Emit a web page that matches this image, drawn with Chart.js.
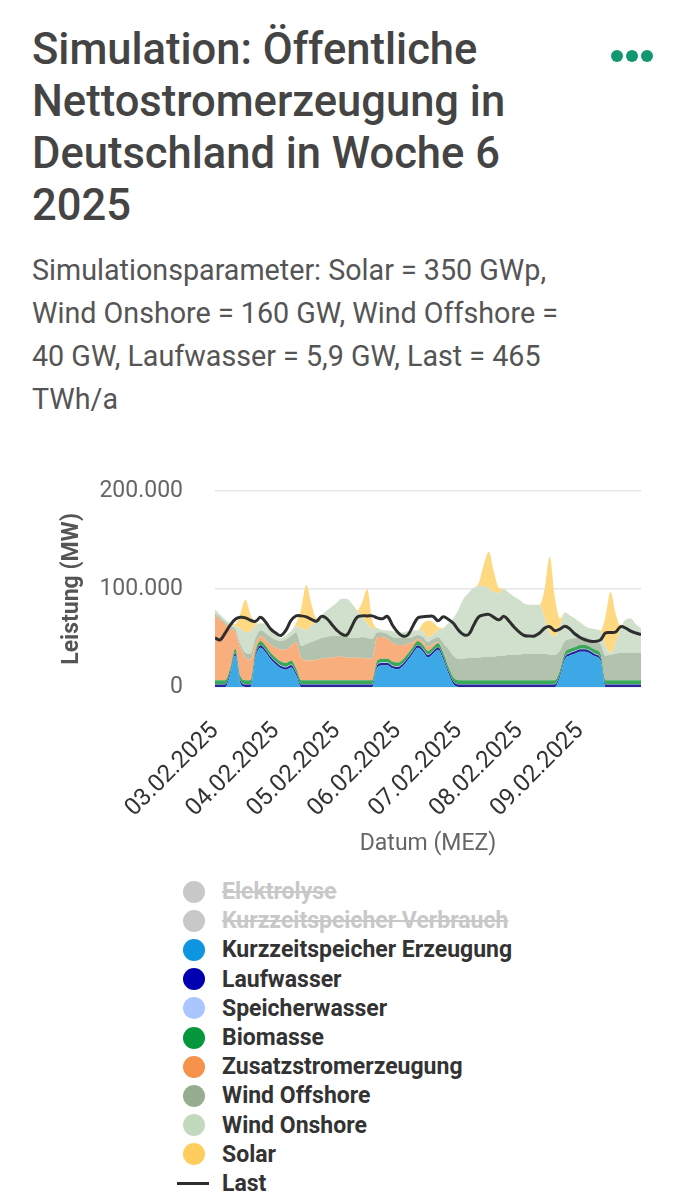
<!DOCTYPE html>
<html lang="de">
<head>
<meta charset="utf-8">
<title>Simulation: Öffentliche Nettostromerzeugung in Deutschland in Woche 6 2025</title>
<script src="https://cdn.jsdelivr.net/npm/chart.js@4.4.1/dist/chart.umd.min.js"></script>
<style>
  html, body { margin: 0; padding: 0; background: #fff; }
  body { position: relative; width: 691px; height: 1200px; overflow: hidden; font-family: Roboto, "Noto Sans", sans-serif; }
  #title { position: absolute; left: 32px; top: 24px; width: 560px; font-size: 43.5px; font-weight: 500; line-height: 52px; color: #444; }
  #menu { position: absolute; left: 611px; top: 47px; white-space: nowrap; }
  #menu span { display: inline-block; width: 12px; height: 12px; border-radius: 50%; background: #13976f; margin-right: 3px; }
  #sub { position: absolute; left: 32px; top: 249px; width: 550px; font-size: 28.7px; line-height: 43px; color: #555; }
  #chartBox { position: absolute; left: 0; top: 445px; width: 691px; height: 415px; }
  #legend { position: absolute; left: 0; top: 877px; width: 691px; }
  .row { position: absolute; left: 0; width: 691px; height: 29px; }
  .mark { position: absolute; left: 183px; top: 3.5px; width: 22px; height: 22px; border-radius: 50%; }
  .mark.line { left: 177px; top: 13px; width: 32px; height: 3px; border-radius: 0; }
  .txt { position: absolute; left: 222px; top: 0; line-height: 29px; font-size: 23px; font-weight: bold; color: #333; white-space: nowrap; }
  .off .txt { color: #c8c8c8; text-decoration: line-through; }
</style>
</head>
<body>
<div id="title">Simulation: Öffentliche Nettostromerzeugung in Deutschland in Woche 6 2025</div>
<div id="menu"><span></span><span></span><span></span></div>
<div id="sub">Simulationsparameter: Solar = 350 GWp, Wind Onshore = 160 GW, Wind Offshore = 40 GW, Laufwasser = 5,9 GW, Last = 465 TWh/a</div>
<div id="chartBox"><canvas id="powerChart"></canvas></div>
<div id="legend"></div>

<script>
// Stunden ab 03.02.2025 00:00 (2-h-Raster)
const hours = [
  0, 2, 4, 6, 8, 10, 12, 14, 16, 18, 20, 22,
  24, 26, 28, 30, 32, 34, 36, 38, 40, 42, 44, 46,
  48, 50, 52, 54, 56, 58, 60, 62, 64, 66, 68, 70,
  72, 74, 76, 78, 80, 82, 84, 86, 88, 90, 92, 94,
  96, 98, 100, 102, 104, 106, 108, 110, 112, 114, 116, 118,
  120, 122, 124, 126, 128, 130, 132, 134, 136, 138, 140, 142,
  144, 146, 148, 150, 152, 154, 156, 158, 160, 162, 164, 166,
  168
];

// Leistung in MW
const kurzErzeugung = [
  0, 0, 0, 12000, 32000, 4000, 0, 0, 30000, 40000, 35000, 28000,
  23000, 19000, 17500, 20000, 12000, 0, 0, 0, 0, 0, 0, 0,
  0, 0, 0, 0, 0, 0, 0, 0, 20000, 22000, 22000, 19000,
  18000, 21000, 27000, 34000, 40000, 36000, 30000, 34000, 38000, 28000, 14000, 3000,
  0, 0, 0, 0, 0, 0, 0, 0, 0, 0, 0, 0,
  0, 0, 0, 0, 0, 0, 0, 0, 10000, 28000, 32000, 34000,
  36000, 36000, 34000, 31000, 27000, 0, 0, 0, 0, 0, 0, 0,
  0
];

const laufwasser = [
  2500, 2500, 2500, 2500, 2500, 2500, 2500, 2500, 2500, 2500, 2500, 2500,
  2500, 2500, 2500, 2500, 2500, 2500, 2500, 2500, 2500, 2500, 2500, 2500,
  2500, 2500, 2500, 2500, 2500, 2500, 2500, 2500, 2500, 2500, 2500, 2500,
  2500, 2500, 2500, 2500, 2500, 2500, 2500, 2500, 2500, 2500, 2500, 2500,
  2500, 2500, 2500, 2500, 2500, 2500, 2500, 2500, 2500, 2500, 2500, 2500,
  2500, 2500, 2500, 2500, 2500, 2500, 2500, 2500, 2500, 2500, 2500, 2500,
  2500, 2500, 2500, 2500, 2500, 2500, 2500, 2500, 2500, 2500, 2500, 2500,
  2500
];

const speicherwasser = [
  400, 400, 400, 400, 400, 400, 400, 400, 400, 400, 400, 400,
  400, 400, 400, 400, 400, 400, 400, 400, 400, 400, 400, 400,
  400, 400, 400, 400, 400, 400, 400, 400, 400, 400, 400, 400,
  400, 400, 400, 400, 400, 400, 400, 400, 400, 400, 400, 400,
  400, 400, 400, 400, 400, 400, 400, 400, 400, 400, 400, 400,
  400, 400, 400, 400, 400, 400, 400, 400, 400, 400, 400, 400,
  400, 400, 400, 400, 400, 400, 400, 400, 400, 400, 400, 400,
  400
];

const biomasse = [
  4000, 4000, 4000, 4000, 4000, 4000, 4000, 4000, 4000, 4000, 4000, 4000,
  4000, 4000, 4000, 4000, 4000, 4000, 4000, 4000, 4000, 4000, 4000, 4000,
  4000, 4000, 4000, 4000, 4000, 4000, 4000, 4000, 4000, 4000, 4000, 4000,
  4000, 4000, 4000, 4000, 4000, 4000, 4000, 4000, 4000, 4000, 4000, 4000,
  4000, 4000, 4000, 4000, 4000, 4000, 4000, 4000, 4000, 4000, 4000, 4000,
  4000, 4000, 4000, 4000, 4000, 4000, 4000, 4000, 4000, 4000, 4000, 4000,
  4000, 4000, 4000, 4000, 4000, 4000, 4000, 4000, 4000, 4000, 4000, 4000,
  4000
];

const zusatz = [
  66000, 62000, 57000, 41000, 17000, 29000, 23000, 21000, 7000, 5000, 6000, 8000,
  10000, 12000, 14000, 15000, 27000, 23000, 20000, 20000, 21000, 22000, 23000, 23000,
  24000, 24000, 23000, 23000, 23000, 23000, 22000, 22000, 24000, 22000, 20000, 19000,
  18000, 15000, 10000, 5000, 2000, 3000, 4000, 3000, 1000, 0, 0, 0,
  0, 0, 0, 0, 0, 0, 0, 0, 0, 0, 0, 0,
  0, 0, 0, 0, 0, 0, 0, 0, 0, 0, 0, 0,
  0, 0, 0, 0, 0, 0, 0, 0, 0, 0, 0, 0,
  0
];

const windOffshore = [
  2000, 2000, 2000, 2000, 3000, 4000, 5000, 6000, 6000, 6000, 7000, 8000,
  8000, 9000, 10000, 10000, 10000, 12000, 17000, 19000, 20000, 21000, 21000, 22000,
  21000, 21000, 21000, 20000, 20000, 21000, 21000, 20000, 5000, 5000, 5000, 6000,
  7000, 7000, 6000, 5000, 4000, 5000, 5000, 5000, 5000, 10000, 18000, 22000,
  22000, 22000, 23000, 23000, 23000, 24000, 24000, 24000, 25000, 25000, 26000, 26000,
  26000, 27000, 27000, 27000, 27000, 27000, 26000, 26000, 20000, 12000, 10000, 9000,
  8000, 8000, 8000, 9000, 10000, 25000, 26000, 27000, 28000, 28000, 28000, 28000,
  28000
];

const windOnshore = [
  4000, 3000, 3000, 3000, 3000, 16000, 21000, 23000, 13000, 7000, 9000, 9000,
  6000, 3000, 4000, 5000, 6000, 18000, 14000, 17000, 19000, 23000, 27000, 30000,
  34000, 38000, 39000, 35000, 28000, 21000, 15000, 11000, 4000, 2000, 4000, 6000,
  6000, 6000, 7000, 7000, 5000, 6000, 5000, 4000, 7000, 15000, 26000, 38000,
  50000, 61000, 66000, 71000, 73000, 72000, 69000, 66000, 64000, 68000, 63000, 59000,
  56000, 51000, 50000, 50000, 50000, 36000, 22000, 19000, 25000, 29000, 24000, 20000,
  15000, 11000, 11000, 12000, 13000, 10000, 2000, 11000, 25000, 34000, 35000, 29000,
  25000
];

const solar = [
  0, 0, 0, 0, 2000, 15000, 33000, 17000, 2000, 0, 0, 0,
  0, 0, 0, 0, 3000, 20000, 46000, 22000, 3000, 0, 0, 0,
  0, 0, 0, 0, 0, 14000, 35000, 8000, 0, 0, 0, 0,
  0, 0, 0, 0, 0, 8000, 17000, 13000, 3000, 0, 0, 0,
  0, 0, 0, 0, 3000, 22000, 38000, 20000, 5000, 0, 0, 0,
  0, 0, 0, 0, 0, 30000, 78000, 40000, 8000, 0, 0, 0,
  0, 0, 0, 0, 0, 30000, 62000, 30000, 2000, 0, 0, 0,
  0
];

const last = [
  50000, 48000, 55000, 63000, 69000, 71000, 70500, 68000, 67000, 71000, 66000, 59000,
  55000, 52500, 58000, 68000, 72500, 72500, 71500, 69000, 67000, 72000, 70000, 64000,
  58000, 54000, 53000, 62000, 71000, 72500, 72500, 72500, 70500, 69500, 72000, 63000,
  56000, 52000, 53000, 62000, 70500, 71500, 72000, 72000, 67500, 71500, 69000, 65000,
  58000, 53500, 53500, 63000, 71500, 73500, 74000, 71000, 68500, 72000, 67000, 61000,
  56000, 52500, 52000, 52000, 55000, 60000, 61500, 57500, 59000, 62000, 59000, 54000,
  50500, 48000, 46700, 46500, 48000, 55000, 55500, 56000, 61500, 60000, 57000, 55000,
  53500
];

const dayTicks = ['03.02.2025', '04.02.2025', '05.02.2025', '06.02.2025', '07.02.2025', '08.02.2025', '09.02.2025'];

const toPoints = vals => hours.map((h, i) => ({ x: h, y: vals[i] }));
const fmtMW = v => String(v).replace(/\B(?=(\d{3})+(?!\d))/g, '.');

// Fläche im Stapel: legendColor für Legende, fillColor für die Fläche
function area(label, vals, legendColor, fillColor, fill, hidden) {
    return {
        label: label,
        data: vals ? toPoints(vals) : [],
        borderColor: legendColor,
        backgroundColor: fillColor,
        borderWidth: 0,
        pointRadius: 0,
        fill: fill,
        hidden: !!hidden,
        stack: 'gen',
        cubicInterpolationMode: 'monotone'
    };
}

const datasets = [
    area('Elektrolyse', null, '#c8c8c8', '#c8c8c8', 'origin', true),
    area('Kurzzeitspeicher Verbrauch', null, '#c8c8c8', '#c8c8c8', 'origin', true),
    area('Kurzzeitspeicher Erzeugung', kurzErzeugung, '#0d95e0', '#3ca8e6', 'origin'),
    area('Laufwasser', laufwasser, '#0000b0', '#26269a', '-1'),
    area('Speicherwasser', speicherwasser, '#a9c6ff', '#bcd2ff', '-1'),
    area('Biomasse', biomasse, '#06963c', '#3aa85a', '-1'),
    area('Zusatzstromerzeugung', zusatz, '#f7924c', '#f9af7d', '-1'),
    area('Wind Offshore', windOffshore, '#97ad8f', '#b2c2ac', '-1'),
    area('Wind Onshore', windOnshore, '#c3d9bd', '#d0e0cc', '-1'),
    area('Solar', solar, '#ffcd5e', '#ffd882', '-1'),
    {
        label: 'Last',
        data: toPoints(last),
        borderColor: '#2e2e2e',
        borderWidth: 3,
        pointRadius: 0,
        fill: false,
        tension: 0.4,
        stack: 'load',
        order: -1
    }
];

Chart.defaults.font.family = 'Roboto, "Noto Sans", sans-serif';

const chart = new Chart(document.getElementById('powerChart').getContext('2d'), {
    type: 'line',
    data: { datasets: datasets },
    options: {
        responsive: true,
        maintainAspectRatio: false,
        animation: false,
        events: [],
        layout: { padding: { left: 58, right: 50, top: 0, bottom: 0 } },
        scales: {
            x: {
                type: 'linear',
                min: 0,
                max: 168,
                grid: { display: false, drawTicks: false },
                border: { display: false },
                ticks: {
                    stepSize: 24,
                    autoSkip: false,
                    includeBounds: false,
                    minRotation: 45,
                    maxRotation: 45,
                    padding: 30,
                    color: '#333',
                    font: { size: 24 },
                    callback: v => dayTicks[v / 24]
                },
                afterBuildTicks: s => { s.ticks = s.ticks.filter(t => t.value < 168); },
                afterFit: s => { s.height = 173; },
                title: {
                    display: true,
                    text: 'Datum (MEZ)',
                    color: '#666',
                    font: { size: 23 },
                    padding: { top: 0, bottom: 2 }
                }
            },
            y: {
                stacked: true,
                min: 0,
                max: 200000,
                grid: { color: '#e6e6e6', lineWidth: 1.5, drawTicks: false },
                border: { display: false },
                ticks: {
                    stepSize: 100000,
                    padding: 32,
                    color: '#666',
                    font: { size: 23 },
                    callback: v => fmtMW(v)
                },
                afterFit: s => { s.width = 157; },
                title: {
                    display: true,
                    text: 'Leistung (MW)',
                    color: '#555',
                    font: { size: 23, weight: 'bold' },
                    padding: { top: 0, bottom: 0 }
                }
            }
        },
        plugins: {
            legend: { display: false },
            tooltip: { enabled: false }
        }
    }
});

// HTML-Legende, eine Zeile je Datenreihe
const legendEl = document.getElementById('legend');
chart.data.datasets.forEach((ds, i) => {
    const row = document.createElement('div');
    row.className = 'row' + (ds.hidden ? ' off' : '');
    row.style.top = (i * 29.2) + 'px';
    const mark = document.createElement('div');
    mark.className = 'mark' + (ds.stack === 'load' ? ' line' : '');
    mark.style.background = ds.hidden ? '#c8c8c8' : ds.borderColor;
    const txt = document.createElement('div');
    txt.className = 'txt';
    txt.textContent = ds.label;
    row.appendChild(mark);
    row.appendChild(txt);
    legendEl.appendChild(row);
});
</script>
</body>
</html>
